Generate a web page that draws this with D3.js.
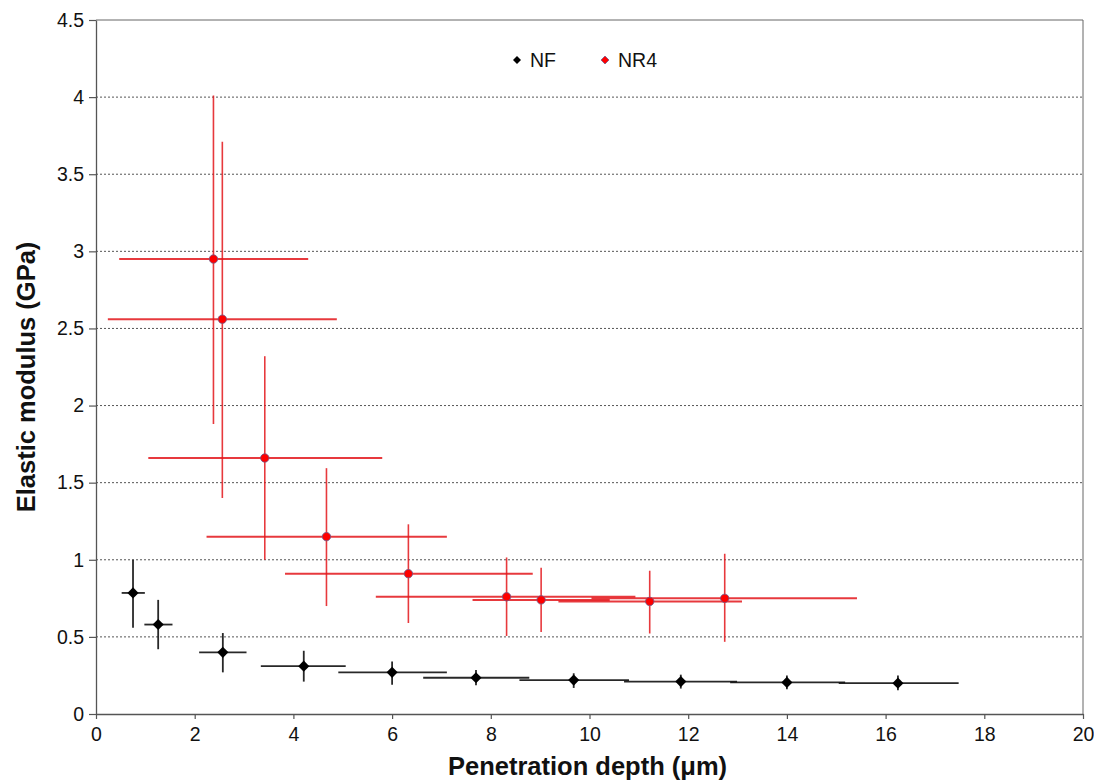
<!DOCTYPE html>
<html>
<head>
<meta charset="utf-8">
<script src="https://cdn.jsdelivr.net/npm/d3@7"></script>
<style>
  body { margin: 0; background: #fff; }
  svg { font-family: "Liberation Sans", Arial, sans-serif; }
</style>
</head>
<body>
<svg id="chart" width="1094" height="783"></svg>
<script>
// NF series
const nfX = [0.75, 1.26, 2.57, 4.21, 6.0, 7.70, 9.68, 11.85, 14.0, 16.25];
const nfY = [0.785, 0.58, 0.40, 0.31, 0.27, 0.235, 0.22, 0.21, 0.205, 0.20];
const nfXLo = [0.52, 0.98, 2.09, 3.34, 4.91, 6.63, 8.58, 10.70, 12.85, 15.05];
const nfXHi = [0.99, 1.55, 3.05, 5.06, 7.11, 8.78, 10.80, 12.99, 15.18, 17.48];
const nfYLo = [0.56, 0.42, 0.27, 0.21, 0.19, 0.186, 0.169, 0.165, 0.16, 0.154];
const nfYHi = [1.0, 0.74, 0.525, 0.41, 0.34, 0.286, 0.264, 0.255, 0.25, 0.25];

// NR4 series
const nrX = [2.38, 2.56, 3.42, 4.67, 6.33, 8.32, 9.02, 11.22, 12.74];
const nrY = [2.95, 2.56, 1.66, 1.15, 0.91, 0.76, 0.74, 0.73, 0.75];
const nrXLo = [0.47, 0.24, 1.06, 2.24, 3.83, 5.67, 7.63, 9.37, 10.04];
const nrXHi = [4.30, 4.88, 5.80, 7.11, 8.85, 10.93, 10.41, 13.09, 15.42];
const nrYLo = [1.88, 1.40, 1.00, 0.70, 0.59, 0.506, 0.532, 0.522, 0.468];
const nrYHi = [4.01, 3.71, 2.32, 1.594, 1.23, 1.015, 0.948, 0.929, 1.039];

const xTicks = [0, 2, 4, 6, 8, 10, 12, 14, 16, 18, 20];
const yTicks = [0, 0.5, 1, 1.5, 2, 2.5, 3, 3.5, 4, 4.5];
const seriesNames = ["NF", "NR4"];

const width = 1094, height = 783;
const margin = { top: 20, right: 11, bottom: 69, left: 96 };
const innerWidth = width - margin.left - margin.right;
const innerHeight = height - margin.top - margin.bottom;

const svg = d3.select("#chart");
const g = svg.append("g").attr("transform", `translate(${margin.left},${margin.top})`);

const xScale = d3.scaleLinear().domain([0, 20]).range([0, innerWidth]);
const yScale = d3.scaleLinear().domain([0, 4.5]).range([innerHeight, 0]);

// dotted gridlines
g.append("g")
  .selectAll("line")
  .data(yTicks.filter(d => d > 0 && d < 4.5))
  .enter()
  .append("line")
  .attr("x1", 0)
  .attr("x2", innerWidth)
  .attr("y1", d => yScale(d))
  .attr("y2", d => yScale(d))
  .attr("stroke", "#555")
  .attr("stroke-width", 1)
  .attr("stroke-dasharray", "2,2");

// frame top / right
g.append("line").attr("x1", 0).attr("x2", innerWidth).attr("y1", 0).attr("y2", 0)
  .attr("stroke", "#666").attr("stroke-width", 1);
g.append("line").attr("x1", innerWidth).attr("x2", innerWidth).attr("y1", 0).attr("y2", innerHeight)
  .attr("stroke", "#666").attr("stroke-width", 1);

const xAxis = d3.axisBottom(xScale).tickValues(xTicks).tickSize(5).tickSizeOuter(0).tickFormat(d3.format("d"));
const yAxis = d3.axisLeft(yScale).tickValues(yTicks).tickSize(7).tickSizeOuter(0).tickFormat(d => String(d));

const gx = g.append("g").attr("transform", `translate(0,${innerHeight})`).call(xAxis);
const gy = g.append("g").call(yAxis);
[gx, gy].forEach(a => {
  a.select(".domain").attr("stroke", "#555").attr("stroke-width", 1.3);
  a.selectAll(".tick line").attr("stroke", "#555").attr("stroke-width", 1.2);
  a.selectAll(".tick text").attr("fill", "#111").style("font-size", "19.5px")
    .style("font-family", "'Liberation Sans', Arial, sans-serif");
});
gx.selectAll(".tick text").attr("y", 27).attr("dy", null);
gy.selectAll(".tick text").attr("x", -12);

// error bars helper
function errorBars(xs, ys, xlo, xhi, ylo, yhi, color, wH, wV, opacity) {
  const idx = d3.range(xs.length);
  const eb = g.append("g").attr("stroke", color).attr("stroke-opacity", opacity);
  eb.selectAll("line.h").data(idx).enter().append("line")
    .attr("class", "h")
    .attr("x1", i => xScale(xlo[i])).attr("x2", i => xScale(xhi[i]))
    .attr("y1", i => yScale(ys[i])).attr("y2", i => yScale(ys[i]))
    .attr("stroke-width", wH);
  eb.selectAll("line.v").data(idx).enter().append("line")
    .attr("class", "v")
    .attr("x1", i => xScale(xs[i])).attr("x2", i => xScale(xs[i]))
    .attr("y1", i => yScale(ylo[i])).attr("y2", i => yScale(yhi[i]))
    .attr("stroke-width", wV);
}

errorBars(nfX, nfY, nfXLo, nfXHi, nfYLo, nfYHi, "#111", 1.8, 1.8, 0.9);
errorBars(nrX, nrY, nrXLo, nrXHi, nrYLo, nrYHi, "#e3161b", 2, 1.6, 0.85);

// square rotated 45deg -> diamond
const diamond = d3.symbol().type(d3.symbolSquare).size(62);

g.append("g")
  .selectAll("path")
  .data(d3.range(nfX.length))
  .enter()
  .append("path")
  .attr("d", diamond)
  .attr("transform", i => `translate(${xScale(nfX[i])},${yScale(nfY[i])}) rotate(45)`)
  .attr("fill", "#000");

g.append("g")
  .selectAll("circle")
  .data(d3.range(nrX.length))
  .enter()
  .append("circle")
  .attr("cx", i => xScale(nrX[i]))
  .attr("cy", i => yScale(nrY[i]))
  .attr("r", 4.2)
  .attr("fill", "#ff0000")
  .attr("stroke", "#6b5a8c")
  .attr("stroke-width", 0.8);

// legend
const legend = svg.append("g").attr("transform", "translate(517,60)");
const legendItems = legend.selectAll("g")
  .data(seriesNames)
  .enter()
  .append("g")
  .attr("transform", (d, i) => `translate(${i * 88},0)`);
legendItems.append("path")
  .attr("d", d3.symbol().type(d3.symbolSquare).size(32))
  .attr("transform", "rotate(45)")
  .attr("fill", (d, i) => i === 0 ? "#000" : "#ff0000")
  .attr("stroke", (d, i) => i === 0 ? "none" : "#6b5a8c")
  .attr("stroke-width", 0.7);
legendItems.append("text")
  .attr("x", 13)
  .attr("y", 7)
  .style("font-size", "19.5px")
  .attr("fill", "#111")
  .text(d => d);

// axis titles
svg.append("text")
  .attr("transform", `translate(${margin.left + innerWidth / 2 - 2}, 775)`)
  .style("text-anchor", "middle")
  .style("font-size", "25.5px")
  .style("font-weight", "bold")
  .attr("fill", "#111")
  .text("Penetration depth (μm)");

svg.append("text")
  .attr("transform", `translate(35, ${margin.top + innerHeight / 2 + 10}) rotate(-90)`)
  .style("text-anchor", "middle")
  .style("font-size", "25.5px")
  .style("font-weight", "bold")
  .attr("fill", "#111")
  .text("Elastic modulus (GPa)");
</script>
</body>
</html>
